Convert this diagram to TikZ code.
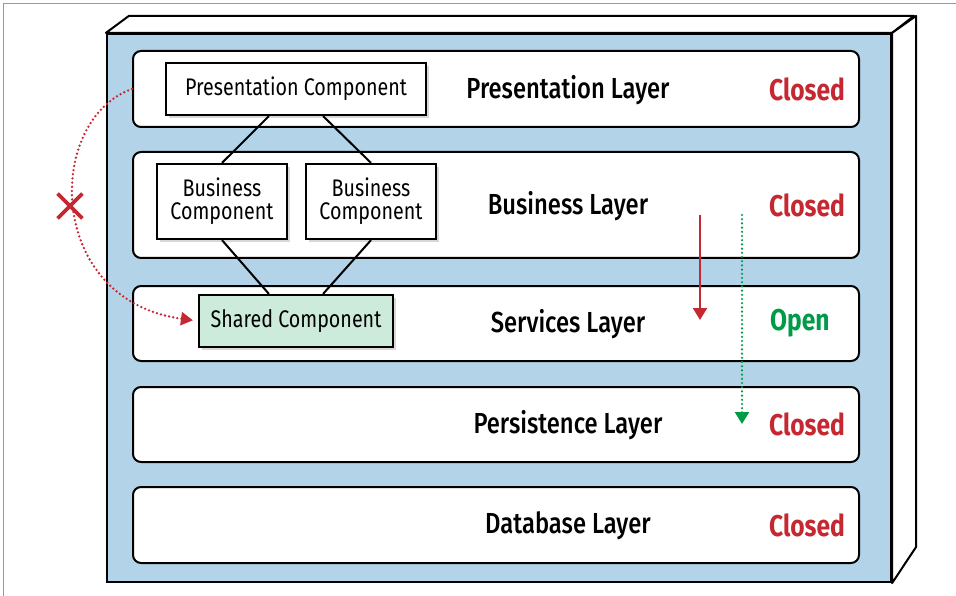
\documentclass[tikz,border=0pt]{standalone}
\usepackage{fontspec}
\setmainfont{Fira Sans}[FakeStretch=0.82]
\newfontfamily\titlefont{Fira Sans Medium}[FakeStretch=0.82]
\usetikzlibrary{arrows.meta, positioning, calc, fit, shadows, shapes.misc}
\definecolor{frameblue}{HTML}{B3D4E8}
\definecolor{closedred}{HTML}{C62832}
\definecolor{opengreen}{HTML}{009A48}
\definecolor{sharedgreen}{HTML}{CDEBDA}
\tikzset{
  layer/.style={draw, line width=2pt, rounded corners=8pt, fill=white, minimum width=726pt},
  comp/.style={draw, line width=2.2pt, fill=white, align=center, inner sep=0pt,
    drop shadow={shadow xshift=3pt, shadow yshift=-3pt, opacity=0.3},
    font=\fontsize{24}{23}\selectfont},
  layertitle/.style={font=\fontsize{29}{29}\selectfont\titlefont, inner sep=0pt},
  status/.style={font=\fontsize{30}{30}\selectfont\bfseries, inner sep=0pt, text=closedred},
  dots/.style={line width=2.6pt, line cap=round, dash pattern={on 0pt off 4.2pt}}
}

\begin{document}
\begin{tikzpicture}[x=1pt, y=-1pt]
\useasboundingbox (0,0) rectangle (956,596);
\draw[gray!80, line width=0.8pt] (3,596) -- (3,3) -- (956,3);

\node[draw, line width=2.2pt, fill=frameblue, minimum width=784pt, minimum height=548pt] (frame) at (499,308) {};
\draw[fill=white, line width=2pt, line join=round] (frame.north west) -- ++(23,-17) -- ++(785,0) -- (frame.north east) -- cycle;
\draw[fill=white, line width=2pt, line join=round] (frame.north east) -- ++(24,-17) -- ++(0,531) -- (frame.south east) -- cycle;

\node[layer, minimum height=76pt] (l1) at (496,89) {};
\node[layer, minimum height=106pt] (l2) at (496,205) {};
\node[layer, minimum height=75pt] (l3) at (496,323.5) {};
\node[layer, minimum height=75pt] (l4) at (496,424.5) {};
\node[layer, minimum height=76pt] (l5) at (496,525) {};

\node[layertitle] (t1) at ([xshift=72pt,yshift=-1pt]l1.center) {Presentation Layer};
\node[layertitle] (t2) at ([xshift=72pt,yshift=-1pt]l2.center) {Business Layer};
\node[layertitle] (t3) at ([xshift=72pt,yshift=-1pt]l3.center) {Services Layer};
\node[layertitle] (t4) at ([xshift=72pt,yshift=-1pt]l4.center) {Persistence Layer};
\node[layertitle] (t5) at ([xshift=72pt,yshift=-1pt]l5.center) {Database Layer};

\node[status] (s1) at ([xshift=311pt]l1.center) {Closed};
\node[status] (s2) at ([xshift=311pt]l2.center) {Closed};
\node[status, text=opengreen, anchor=west] (s3) at ([xshift=274pt]l3.center) {Open};
\node[status] (s4) at ([xshift=311pt]l4.center) {Closed};
\node[status] (s5) at ([xshift=311pt]l5.center) {Closed};

\node[comp, minimum width=260pt, minimum height=52pt] (pres) at (296,89) {Presentation Component};
\node[comp, minimum width=130pt, minimum height=75pt] (bus1) at (222,201.5) {Business\\Component};
\node[comp, minimum width=130pt, minimum height=75pt] (bus2) at (371,201.5) {Business\\Component};
\node[comp, fill=sharedgreen, minimum width=194pt, minimum height=52pt] (shared) at (296,321) {Shared Component};

\draw[line width=2pt] (pres.225) -- (bus1.north);
\draw[line width=2pt] (pres.315) -- (bus2.north);
\draw[line width=2pt] (bus1.south) -- (shared.135);
\draw[line width=2pt] (bus2.south) -- (shared.45);

\draw[dots, closedred, -{Triangle[length=12pt, width=13pt]}, shorten >=5pt]
  (l1.west) .. controls (45,120) and (45,300) .. (shared.west);
\node[cross out, draw=closedred, line width=3.8pt, minimum size=21pt, inner sep=0pt] (nope) at (70,206) {};

\coordinate (redtop) at (700,215);
\coordinate (redend) at (700,320);
\coordinate (greentop) at (742,215);
\coordinate (greenend) at (742,424);
\draw[closedred, line width=2pt, -{Triangle[length=12pt, width=14pt]}] (redtop) -- (redend);
\draw[dots, opengreen, line width=2.4pt, -{Triangle[length=12pt, width=14pt]}] (greentop) -- (greenend);
\end{tikzpicture}
\end{document}
